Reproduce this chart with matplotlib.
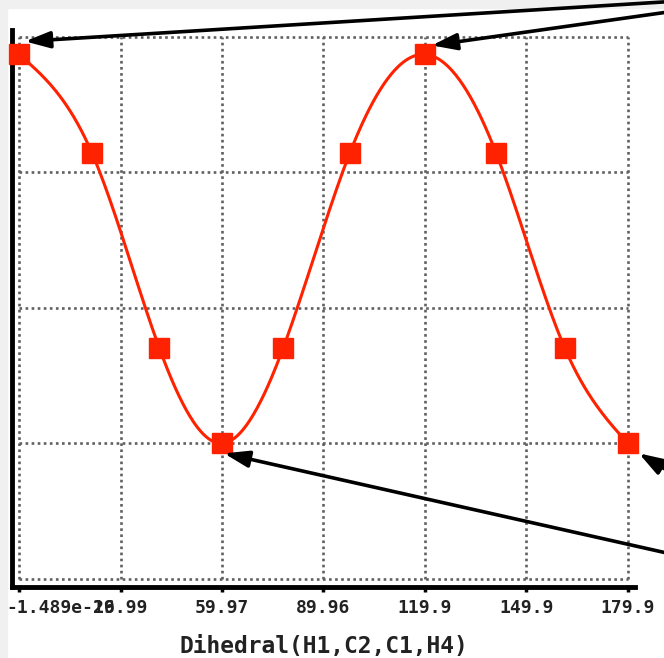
import numpy as np
import matplotlib
matplotlib.use('Agg')
import matplotlib.pyplot as plt
from matplotlib.patches import Rectangle
from matplotlib.transforms import ScaledTranslation, offset_copy

# scan points
dihedral = [0.0, 21.6, 41.5, 59.97, 78.0, 97.7, 119.9, 141.0, 161.3, 179.9]
energy = [3.87, 3.14, 1.70, 1.00, 1.70, 3.14, 3.87, 3.14, 1.70, 1.00]

x_ticks = [0.0, 29.99, 59.97, 89.96, 119.9, 149.9, 179.9]
x_tick_labels = ['-1.489e-16', '29.99', '59.97', '89.96', '119.9', '149.9', '179.9']
y_grid = [0, 1, 2, 3, 4]
x_label = 'Dihedral(H1,C2,C1,H4)'

# arrows: point index, tip offset from point (px, y up), tail (image px, y down)
arrows = [
    (0, (6, 13), (760, -4)),
    (6, (7, 9), (760, -1)),
    (9, (11, -10), (700, 490)),
    (3, (2, -10), (760, 574)),
]

W, H = 664, 658
RED = '#ff2200'


def natural_spline(x, y, n=500):
    """Smooth curve through the scan points (natural cubic spline)"""
    x = np.asarray(x, float)
    y = np.asarray(y, float)
    h = np.diff(x)
    m = len(x)
    A = np.zeros((m, m))
    b = np.zeros(m)
    A[0, 0] = A[-1, -1] = 1
    for i in range(1, m - 1):
        A[i, i - 1] = h[i - 1]
        A[i, i] = 2 * (h[i - 1] + h[i])
        A[i, i + 1] = h[i]
        b[i] = 3 * ((y[i + 1] - y[i]) / h[i] - (y[i] - y[i - 1]) / h[i - 1])
    c = np.linalg.solve(A, b)
    xs = np.linspace(x[0], x[-1], n)
    k = np.clip(np.searchsorted(x, xs) - 1, 0, m - 2)
    dx = xs - x[k]
    bk = (y[k + 1] - y[k]) / h[k] - h[k] * (2 * c[k] + c[k + 1]) / 3
    dk = (c[k + 1] - c[k]) / (3 * h[k])
    return xs, y[k] + bk * dx + c[k] * dx ** 2 + dk * dx ** 3


fig = plt.figure(figsize=(W / 100, H / 100), dpi=100)
fig.patch.set_facecolor('white')
# grey screenshot border on the left and top
fig.patches.append(Rectangle((0, 0), 7 / W, 1, transform=fig.transFigure,
                             color='#f0f0f0', zorder=-1))
fig.patches.append(Rectangle((0, 1 - 8 / H), 1, 8 / H, transform=fig.transFigure,
                             color='#f0f0f0', zorder=-1))

ax = fig.add_axes([12 / W, 71 / H, 623 / W, 557 / H])
ax.set_xlim(-2.07, 182.0)
ax.set_ylim(-0.06, 4.05)

# dotted grid box
grid_kw = dict(colors='#606060', linestyles=(0, (1, 1.3)), linewidth=1.9, zorder=1)
ax.hlines(y_grid, x_ticks[0], x_ticks[-1], **grid_kw)
ax.vlines(x_ticks, y_grid[0], y_grid[-1], **grid_kw)

xs, ys = natural_spline(dihedral, energy)
ax.plot(xs, ys, color=RED, lw=2.2, zorder=2)
ax.plot(dihedral, energy, 's', color=RED, markersize=15, zorder=3, clip_on=False)

for spine in ['top', 'right']:
    ax.spines[spine].set_visible(False)
for spine in ['left', 'bottom']:
    ax.spines[spine].set_linewidth(3.5)

ax.set_xticks(x_ticks)
ax.set_xticklabels(x_tick_labels, family='DejaVu Sans Mono', fontweight='bold',
                   fontsize=13, color='#222222')
ax.tick_params(axis='x', length=3.5, width=2.5, pad=5)
ax.tick_params(axis='y', length=0, labelleft=False)

# first label is pushed right so it stays inside the picture
lab = ax.xaxis.get_major_ticks()[0].label1
lab.set_horizontalalignment('left')
lab.set_transform(lab.get_transform() + ScaledTranslation(-13 / 100, 0, fig.dpi_scale_trans))

ax.set_xlabel(x_label, family='DejaVu Sans Mono', fontweight='bold', fontsize=16.5,
              color='#222222', labelpad=13)

for idx, (dx, dy), (tx, ty) in arrows:
    tip = offset_copy(ax.transData, x=dx, y=dy, units='dots')
    ax.annotate('', xy=(dihedral[idx], energy[idx]), xycoords=tip,
                xytext=(tx, H - ty), textcoords='figure pixels',
                arrowprops=dict(arrowstyle='-|>,head_length=0.75,head_width=0.25',
                                mutation_scale=20, lw=2.6, color='black',
                                shrinkA=0, shrinkB=0),
                annotation_clip=False, zorder=5)

fig.savefig('out.png', dpi=100)
